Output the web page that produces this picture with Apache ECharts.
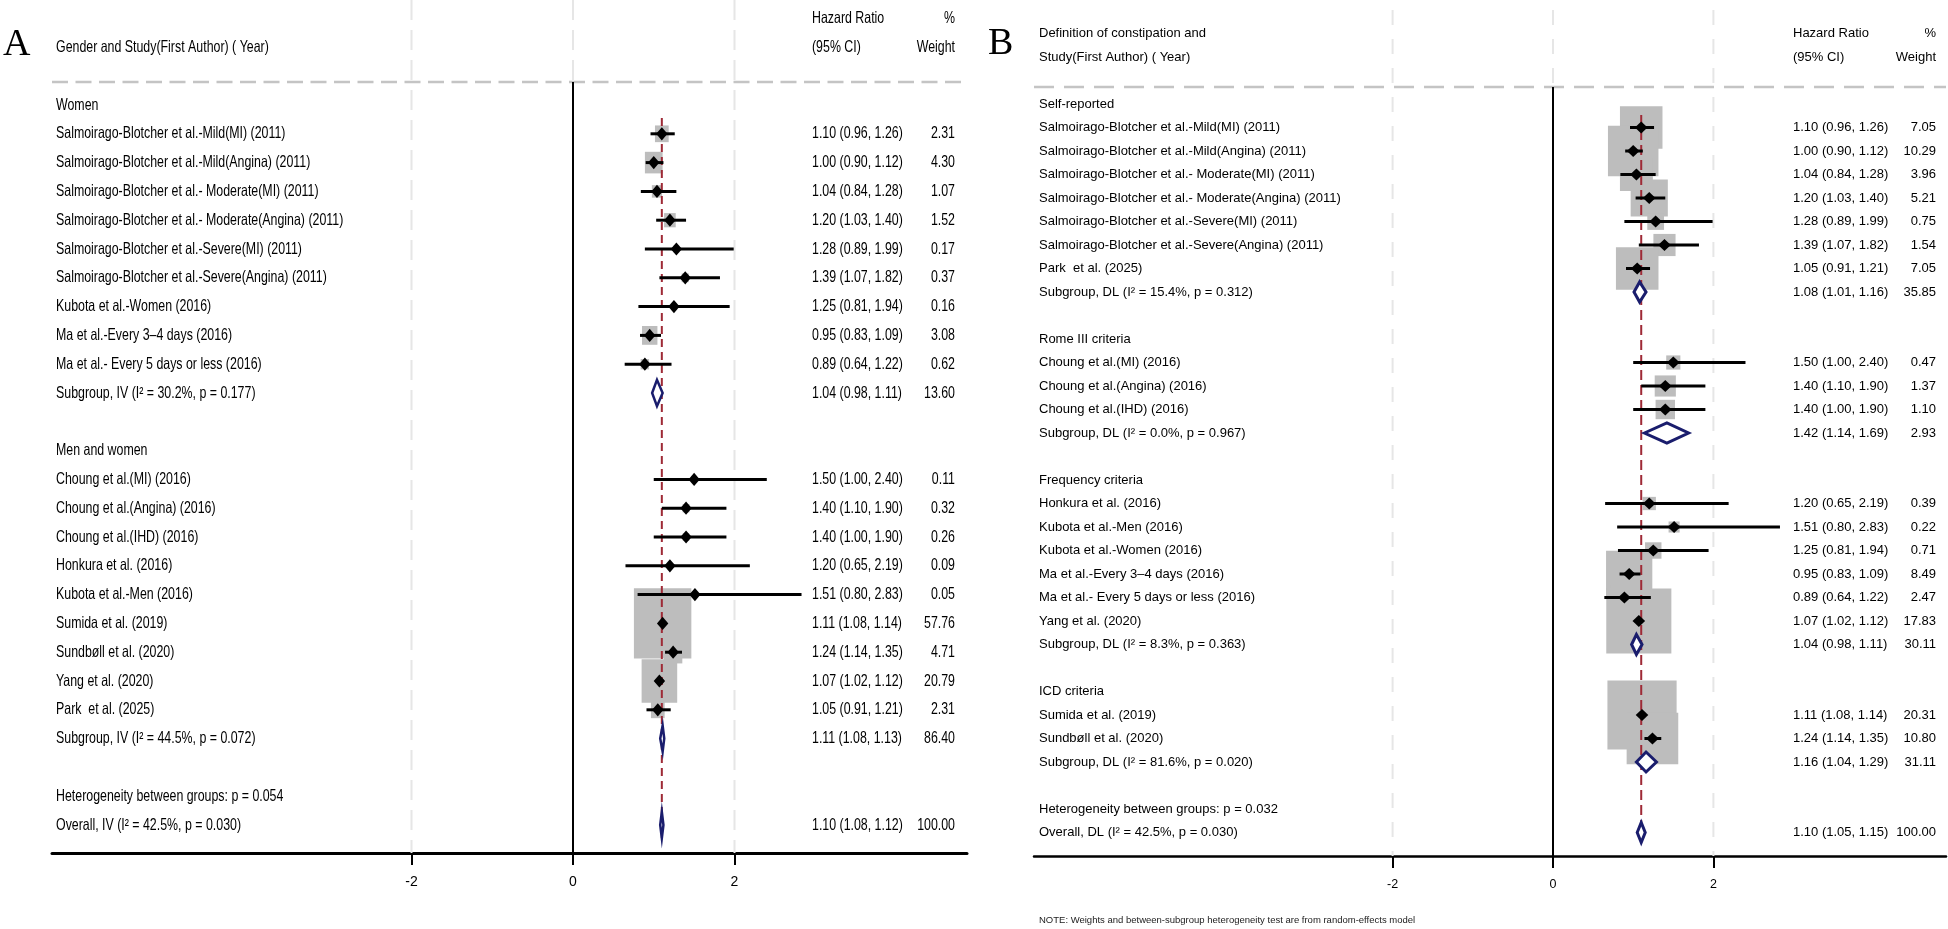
<!DOCTYPE html>
<html><head><meta charset="utf-8">
<script src="https://cdn.jsdelivr.net/npm/echarts@6/dist/echarts.min.js"></script>
<style>html,body{margin:0;padding:0;background:#fff}#c{width:1948px;height:929px}</style>
</head><body><div id="c"></div>
<script>
// ================= DATA: Panel A =================
const aHeadLeft  = ['', 'Gender and Study(First Author) ( Year)'];
const aHeadMid   = ['Hazard Ratio', '(95% CI)'];
const aHeadRight = ['%', 'Weight'];
const aLabels = [
  'Women',
  'Salmoirago-Blotcher et al.-Mild(MI) (2011)',
  'Salmoirago-Blotcher et al.-Mild(Angina) (2011)',
  'Salmoirago-Blotcher et al.- Moderate(MI) (2011)',
  'Salmoirago-Blotcher et al.- Moderate(Angina) (2011)',
  'Salmoirago-Blotcher et al.-Severe(MI) (2011)',
  'Salmoirago-Blotcher et al.-Severe(Angina) (2011)',
  'Kubota et al.-Women (2016)',
  'Ma et al.-Every 3\u20134 days (2016)',
  'Ma et al.- Every 5 days or less (2016)',
  'Subgroup, IV (I\u00b2 = 30.2%, p = 0.177)',
  '',
  'Men and women',
  'Choung et al.(MI) (2016)',
  'Choung et al.(Angina) (2016)',
  'Choung et al.(IHD) (2016)',
  'Honkura et al. (2016)',
  'Kubota et al.-Men (2016)',
  'Sumida et al. (2019)',
  'Sundb\u00f8ll et al. (2020)',
  'Yang et al. (2020)',
  'Park  et al. (2025)',
  'Subgroup, IV (I\u00b2 = 44.5%, p = 0.072)',
  '',
  'Heterogeneity between groups: p = 0.054',
  'Overall, IV (I\u00b2 = 42.5%, p = 0.030)'
];
const aHR = [null,1.10,1.00,1.04,1.20,1.28,1.39,1.25,0.95,0.89,1.04,null,null,1.50,1.40,1.40,1.20,1.51,1.11,1.24,1.07,1.05,1.11,null,null,1.10];
const aLo = [null,0.96,0.90,0.84,1.03,0.89,1.07,0.81,0.83,0.64,0.98,null,null,1.00,1.10,1.00,0.65,0.80,1.08,1.14,1.02,0.91,1.08,null,null,1.08];
const aHi = [null,1.26,1.12,1.28,1.40,1.99,1.82,1.94,1.09,1.22,1.11,null,null,2.40,1.90,1.90,2.19,2.83,1.14,1.35,1.12,1.21,1.13,null,null,1.12];
const aWt = [null,2.31,4.30,1.07,1.52,0.17,0.37,0.16,3.08,0.62,13.60,null,null,0.11,0.32,0.26,0.09,0.05,57.76,4.71,20.79,2.31,86.40,null,null,100.00];

// ================= DATA: Panel B =================
const bHeadLeft  = ['Definition of constipation and', 'Study(First Author) ( Year)'];
const bHeadMid   = ['Hazard Ratio', '(95% CI)'];
const bHeadRight = ['%', 'Weight'];
const bLabels = [
  'Self-reported',
  'Salmoirago-Blotcher et al.-Mild(MI) (2011)',
  'Salmoirago-Blotcher et al.-Mild(Angina) (2011)',
  'Salmoirago-Blotcher et al.- Moderate(MI) (2011)',
  'Salmoirago-Blotcher et al.- Moderate(Angina) (2011)',
  'Salmoirago-Blotcher et al.-Severe(MI) (2011)',
  'Salmoirago-Blotcher et al.-Severe(Angina) (2011)',
  'Park  et al. (2025)',
  'Subgroup, DL (I\u00b2 = 15.4%, p = 0.312)',
  '',
  'Rome III criteria',
  'Choung et al.(MI) (2016)',
  'Choung et al.(Angina) (2016)',
  'Choung et al.(IHD) (2016)',
  'Subgroup, DL (I\u00b2 = 0.0%, p = 0.967)',
  '',
  'Frequency criteria',
  'Honkura et al. (2016)',
  'Kubota et al.-Men (2016)',
  'Kubota et al.-Women (2016)',
  'Ma et al.-Every 3\u20134 days (2016)',
  'Ma et al.- Every 5 days or less (2016)',
  'Yang et al. (2020)',
  'Subgroup, DL (I\u00b2 = 8.3%, p = 0.363)',
  '',
  'ICD criteria',
  'Sumida et al. (2019)',
  'Sundb\u00f8ll et al. (2020)',
  'Subgroup, DL (I\u00b2 = 81.6%, p = 0.020)',
  '',
  'Heterogeneity between groups: p = 0.032',
  'Overall, DL (I\u00b2 = 42.5%, p = 0.030)'
];
const bHR = [null,1.10,1.00,1.04,1.20,1.28,1.39,1.05,1.08,null,null,1.50,1.40,1.40,1.42,null,null,1.20,1.51,1.25,0.95,0.89,1.07,1.04,null,null,1.11,1.24,1.16,null,null,1.10];
const bLo = [null,0.96,0.90,0.84,1.03,0.89,1.07,0.91,1.01,null,null,1.00,1.10,1.00,1.14,null,null,0.65,0.80,0.81,0.83,0.64,1.02,0.98,null,null,1.08,1.14,1.04,null,null,1.05];
const bHi = [null,1.26,1.12,1.28,1.40,1.99,1.82,1.21,1.16,null,null,2.40,1.90,1.90,1.69,null,null,2.19,2.83,1.94,1.09,1.22,1.12,1.11,null,null,1.14,1.35,1.29,null,null,1.15];
const bWt = [null,7.05,10.29,3.96,5.21,0.75,1.54,7.05,35.85,null,null,0.47,1.37,1.10,2.93,null,null,0.39,0.22,0.71,8.49,2.47,17.83,30.11,null,null,20.31,10.80,31.11,null,null,100.00];

const tickValues = [-2, 0, 2];
const noteText = 'NOTE: Weights and between-subgroup heterogeneity test are from random-effects model';

// ================= RENDERING =================
const FONT = '"Liberation Sans", Arial, Helvetica, sans-serif';
const GRAY_BOX = '#bdbdbd', GRID = '#e6e6e6', HEADLINE = '#c4c4c4', RED = '#9e2a36', NAVY = '#1a1d6d';
const fmt = v => v.toFixed(2);
const isPooled = t => /^(Subgroup|Overall)/.test(t);

function panelSeries(P, idx) {
  const S = P.style;
  const rows = P.labels.map((t, i) => i);
  const studyRows = rows.filter(i => P.hr[i] != null && !isPooled(P.labels[i]));
  const pooledRows = rows.filter(i => P.hr[i] != null && isPooled(P.labels[i]));
  const overallRow = rows.find(i => /^Overall/.test(P.labels[i]));
  const base = {type: 'custom', coordinateSystem: 'cartesian2d', xAxisIndex: idx, yAxisIndex: idx, silent: true, animation: false, clip: false};
  const out = [];
  // vertical dashed gridlines
  out.push(Object.assign({}, base, {z: 1, data: P.ticks.map(v => [v, 0]),
    renderItem(params, api) {
      const cs = params.coordSys; const x = api.coord([api.value(0), 0])[0];
      return {type: 'line', shape: {x1: x, y1: cs.y, x2: x, y2: cs.y + cs.height},
        style: {stroke: GRID, lineWidth: 2, lineDash: S.gridDash}};
    }}));
  // header dashed horizontal line
  out.push(Object.assign({}, base, {z: 2, data: [[0, S.headLineRow]],
    renderItem(params, api) {
      const cs = params.coordSys; const y = api.coord([0, api.value(1)])[1];
      return {type: 'line', shape: {x1: cs.x, y1: y, x2: cs.x + cs.width, y2: y},
        style: {stroke: HEADLINE, lineWidth: 2.5, lineDash: S.headDash}};
    }}));
  // zero line
  out.push(Object.assign({}, base, {z: 3, data: [[0, S.headLineRow]],
    renderItem(params, api) {
      const cs = params.coordSys; const p = api.coord([0, api.value(1)]);
      return {type: 'line', shape: {x1: p[0], y1: p[1], x2: p[0], y2: cs.y + cs.height},
        style: {stroke: '#000', lineWidth: 2}};
    }}));
  // weight boxes
  out.push(Object.assign({}, base, {z: 4, data: studyRows.map(i => [P.hr[i], i, P.wt[i]]),
    renderItem(params, api) {
      const c = api.coord([api.value(0), api.value(1)]);
      const h = S.boxA * Math.sqrt(api.value(2)) + S.boxB; const w = h * S.boxAspect;
      return {type: 'rect', shape: {x: c[0] - w / 2, y: c[1] - h / 2, width: w, height: h},
        style: {fill: GRAY_BOX}};
    }}));
  // overall red dashed line
  out.push(Object.assign({}, base, {z: 5, data: [[P.hr[overallRow], overallRow]],
    renderItem(params, api) {
      const r = api.value(1);
      const p1 = api.coord([api.value(0), S.redTop]);
      const p2 = api.coord([api.value(0), r + S.redBot]);
      return {type: 'line', shape: {x1: p1[0], y1: p1[1], x2: p2[0], y2: p2[1]},
        style: {stroke: RED, lineWidth: 2, lineDash: S.redDash}};
    }}));
  // CI lines
  out.push(Object.assign({}, base, {z: 6, data: studyRows.map(i => [P.lo[i], i, P.hi[i]]),
    renderItem(params, api) {
      const p1 = api.coord([api.value(0), api.value(1)]);
      const p2 = api.coord([api.value(2), api.value(1)]);
      return {type: 'line', shape: {x1: p1[0], y1: p1[1], x2: p2[0], y2: p2[1]},
        style: {stroke: '#000', lineWidth: 3}};
    }}));
  // point estimates
  out.push(Object.assign({}, base, {z: 7, data: studyRows.map(i => [P.hr[i], i]),
    renderItem(params, api) {
      const c = api.coord([api.value(0), api.value(1)]);
      return {type: 'polygon', shape: {points: [[c[0] - S.dw, c[1]], [c[0], c[1] - S.dh], [c[0] + S.dw, c[1]], [c[0], c[1] + S.dh]]},
        style: {fill: '#000'}};
    }}));
  // pooled diamonds
  out.push(Object.assign({}, base, {z: 8, data: pooledRows.map(i => [P.hr[i], i, P.lo[i], P.hi[i]]),
    renderItem(params, api) {
      const r = api.value(1);
      const c = api.coord([api.value(0), r]);
      const l = api.coord([api.value(2), r]);
      const h = api.coord([api.value(3), r]);
      return {type: 'polygon', shape: {points: [[l[0], c[1]], [c[0], c[1] - S.poolH], [h[0], c[1]], [c[0], c[1] + S.poolH]]},
        style: {fill: '#fff', stroke: NAVY, lineWidth: S.poolLW, lineJoin: 'miter'}};
    }}));
  // texts
  const txt = (x, y, s, align) => ({type: 'text', x: x, y: y, scaleX: S.scaleX,
    style: {text: s, fill: '#000', fontSize: S.fontSize, fontFamily: FONT, align: align, verticalAlign: 'middle'}});
  const textData = [[0, -3, -1], [0, -2, -2]].concat(rows.map(i => [0, i, i]));
  out.push(Object.assign({}, base, {z: 9, data: textData,
    renderItem(params, api) {
      const row = api.value(1), i = api.value(2);
      const y = api.coord([0, row])[1];
      const kids = [];
      if (i < 0) {
        const k = row + 3;
        if (P.headLeft[k]) kids.push(txt(S.labelX, y, P.headLeft[k], 'left'));
        kids.push(txt(S.valueX, y, P.headMid[k], 'left'));
        kids.push(txt(S.weightX, y, P.headRight[k], 'right'));
      } else {
        if (P.labels[i]) kids.push(txt(S.labelX, y, P.labels[i], 'left'));
        if (P.hr[i] != null) {
          kids.push(txt(S.valueX, y, fmt(P.hr[i]) + ' (' + fmt(P.lo[i]) + ', ' + fmt(P.hi[i]) + ')', 'left'));
          kids.push(txt(S.weightX, y, fmt(P.wt[i]), 'right'));
        }
      }
      return {type: 'group', children: kids};
    }}));
  return out;
}

const PA = {labels: aLabels, hr: aHR, lo: aLo, hi: aHi, wt: aWt, headLeft: aHeadLeft, headMid: aHeadMid, headRight: aHeadRight, ticks: tickValues,
  style: {labelX: 56, valueX: 812, weightX: 955, fontSize: 16.5, scaleX: 0.75, headLineRow: -0.8, gridDash: [20, 10], headDash: [16, 7.5],
    redDash: [8, 5], redTop: 0.45, redBot: 0.45, boxA: 8.77, boxB: 3.4, boxAspect: 0.82, dw: 5.7, dh: 6.6, poolH: 13.2, poolLW: 2.5}};
const PB = {labels: bLabels, hr: bHR, lo: bLo, hi: bHi, wt: bWt, headLeft: bHeadLeft, headMid: bHeadMid, headRight: bHeadRight, ticks: tickValues,
  style: {labelX: 1039, valueX: 1793, weightX: 1936, fontSize: 13, scaleX: 1, headLineRow: -0.72, gridDash: [15, 14], headDash: [20, 10],
    redDash: [10, 5], redTop: 0.47, redBot: 0.45, boxA: 14.4, boxB: 4.3, boxAspect: 1, dw: 6.3, dh: 5.9, poolH: 10, poolLW: 3}};

// layout (pixels)
const A_LEFT = 52, A_RIGHT = 967, A_ZERO = 573, A_UNIT = 80.75, A_TOP = 0, A_AXIS = 853, A_ROW0 = 105, A_ROWH = 28.8;
const B_LEFT = 1034, B_RIGHT = 1946, B_ZERO = 1553, B_UNIT = 80.2, B_TOP = 10, B_AXIS = 856, B_ROW0 = 104, B_ROWH = 23.5;

function xAxisCfg(grid, left, right, zero, unit, lw, fs) {
  return {gridIndex: grid, type: 'value', min: (left - zero) / unit, max: (right - zero) / unit,
    axisLine: {show: true, onZero: false, lineStyle: {color: '#000', width: lw}},
    axisTick: {show: true, customValues: tickValues, length: 12, lineStyle: {color: '#000', width: 2}},
    axisLabel: {show: true, customValues: tickValues, margin: 22, color: '#000', fontSize: fs, fontFamily: FONT},
    splitLine: {show: false}};
}
function yAxisCfg(grid, top, axis, row0, rowh) {
  return {gridIndex: grid, type: 'value', inverse: true, show: false,
    min: (top - row0) / rowh, max: (axis - row0) / rowh, splitLine: {show: false}};
}

const chart = echarts.init(document.getElementById('c'), null, {renderer: 'canvas'});
chart.setOption({
  animation: false,
  backgroundColor: '#fff',
  grid: [
    {left: A_LEFT, top: A_TOP, width: A_RIGHT - A_LEFT, height: A_AXIS - A_TOP},
    {left: B_LEFT, top: B_TOP, width: B_RIGHT - B_LEFT, height: B_AXIS - B_TOP}
  ],
  xAxis: [xAxisCfg(0, A_LEFT, A_RIGHT, A_ZERO, A_UNIT, 3, 14), xAxisCfg(1, B_LEFT, B_RIGHT, B_ZERO, B_UNIT, 2.5, 12.5)],
  yAxis: [yAxisCfg(0, A_TOP, A_AXIS, A_ROW0, A_ROWH), yAxisCfg(1, B_TOP, B_AXIS, B_ROW0, B_ROWH)],
  graphic: [
    {type: 'text', x: 3, y: 45, silent: true, style: {text: 'A', fill: '#000', fontSize: 38, fontFamily: '"Liberation Serif", "Times New Roman", serif', verticalAlign: 'middle'}},
    {type: 'text', x: 988, y: 44, silent: true, style: {text: 'B', fill: '#000', fontSize: 38, fontFamily: '"Liberation Serif", "Times New Roman", serif', verticalAlign: 'middle'}},
    {type: 'text', x: 1039, y: 920, silent: true, style: {text: noteText, fill: '#222', fontSize: 9.5, fontFamily: FONT, verticalAlign: 'middle'}}
  ],
  series: panelSeries(PA, 0).concat(panelSeries(PB, 1))
});
</script>
</body></html>
